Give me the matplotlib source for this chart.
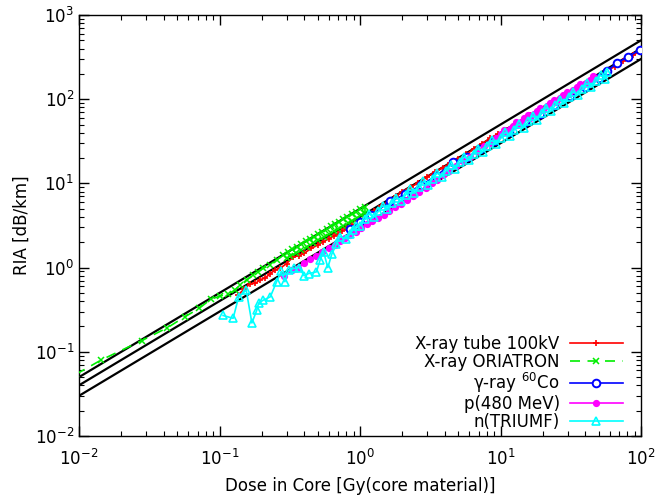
import matplotlib
matplotlib.use("Agg")
import matplotlib.pyplot as plt
import numpy as np

plt.rcParams['font.family'] = ['DejaVu Sans']
plt.rcParams['mathtext.fontset'] = 'dejavusans'

# Reference proportionality lines RIA = k * dose
ref_coeffs = [5.0, 4.0, 3.0]
ref_dose = [1e-2, 1e2]

# X-ray tube 100kV
red_dose = [0.136, 0.15, 0.165, 0.18, 0.195, 0.211, 0.23, 0.25, 0.27, 0.30,
            0.334, 0.37, 0.40, 0.45, 0.50, 0.548, 0.60, 0.65, 0.70, 0.75,
            0.80, 0.88, 0.97, 1.1, 1.25, 1.4, 1.6, 1.8, 2.0, 2.3,
            2.6, 3.0, 3.4, 3.9, 4.4, 5.0, 5.7, 6.5, 7.4, 8.4,
            9.6, 11, 12.5, 14.3, 16.3, 18.6, 21, 25, 30, 37,
            46, 57, 65, 75, 88, 100]
red_ria = [0.476, 0.555, 0.644, 0.648, 0.72, 0.75, 0.85, 0.94, 0.985, 1.11,
           1.34, 1.39, 1.48, 1.69, 1.85, 2.03, 2.19, 2.37, 2.52, 2.74,
           2.92, 3.17, 3.49, 4.07, 4.69, 5.32, 6.16, 7.02, 8.0, 9.09,
           10.1, 11.9, 13.6, 15.4, 17.4, 19.5, 22.2, 25.7, 29.6, 34.4,
           38.4, 43.5, 48.8, 55.8, 64.4, 72.5, 81.9, 96.3, 115.5, 142.5,
           174.8, 216.6, 243.8, 285, 334, 380]

# X-ray ORIATRON
green_dose = [0.0095, 0.0144, 0.0279, 0.0425, 0.0568, 0.0718, 0.0865, 0.101, 0.1156, 0.129,
              0.140, 0.156, 0.174, 0.188, 0.204, 0.229, 0.255, 0.284, 0.309, 0.33,
              0.355, 0.38, 0.41, 0.44, 0.47, 0.50, 0.54, 0.58, 0.62, 0.66,
              0.71, 0.76, 0.81, 0.87, 0.93, 1.0, 1.085, 1.085, 1.02, 0.95,
              0.88, 0.82, 0.76, 0.70, 0.65, 0.60, 0.55, 0.50, 0.46, 0.42,
              0.38, 0.35, 0.32, 0.30]
green_ria = [0.054, 0.080, 0.1355, 0.193, 0.261, 0.329, 0.42, 0.46, 0.486, 0.542,
             0.621, 0.713, 0.817, 0.89, 0.98, 1.07, 1.23, 1.41, 1.55, 1.66,
             1.78, 1.90, 2.05, 2.19, 2.34, 2.49, 2.68, 2.88, 3.08, 3.27,
             3.52, 3.76, 4.01, 4.30, 4.59, 4.93, 5.29, 4.42, 4.18, 3.90,
             3.62, 3.38, 3.14, 2.90, 2.70, 2.50, 2.30, 2.10, 1.94, 1.78,
             1.62, 1.50, 1.38, 1.30]

# gamma-ray 60Co
blue_dose = [0.85, 1.0, 1.2, 1.635, 2.1, 2.7, 3.5, 4.62, 5.8, 7.2,
             9.0, 11.5, 15, 19, 24, 31, 40, 50, 57, 67,
             81, 98]
blue_ria = [2.9, 3.5, 4.2, 6.1, 7.4, 9.5, 12.3, 18.0, 20.5, 25.5,
            31.5, 40.5, 53, 67, 85, 110, 141, 178, 215, 267,
            320, 385]

# p (480 MeV)
mag_dose = [0.29, 0.33, 0.364, 0.40, 0.44, 0.49, 0.54, 0.60, 0.66, 0.72,
            0.78, 0.85, 0.93, 1.02, 1.12, 1.22, 1.34, 1.47, 1.62, 1.78,
            1.95, 2.15, 2.39, 2.65, 2.95, 3.25, 3.52, 3.9, 4.3, 4.8,
            5.4, 6.07, 6.8, 7.6, 8.4, 9.3, 10.0, 10.6, 11.0, 11.6,
            12.2, 12.8, 13.2, 14.0, 14.8, 15.6, 16.2, 17.2, 18.2, 19.2,
            20.0, 21.3, 22.6, 24.0, 24.8, 26.4, 28.0, 29.8, 30.8, 32.8,
            34.8, 37.0, 38.2, 40.6, 43.0, 45.5, 47.0]
mag_ria = [0.80, 0.93, 1.0, 1.12, 1.25, 1.38, 1.52, 1.70, 1.88, 2.06,
           2.25, 2.45, 2.68, 2.96, 3.28, 3.55, 3.90, 4.20, 4.70, 5.20,
           5.75, 6.30, 7.0, 7.9, 8.9, 10.0, 11.0, 12.5, 14.0, 16.0,
           18.3, 20.5, 24.0, 28.0, 30.5, 34.5, 39.0, 43.0, 40.5, 44.5,
           48.5, 53.0, 49.0, 54.0, 59.0, 64.5, 60.5, 66.5, 72.5, 79.0,
           75.0, 82.0, 90.0, 99, 93.0, 102, 111, 122, 115, 127,
           139, 152, 143, 157, 171, 187, 177]

# n (TRIUMF)
cyan_dose = [0.106, 0.125, 0.137, 0.155, 0.170, 0.184, 0.190, 0.205, 0.230, 0.255,
             0.275, 0.292, 0.31, 0.34, 0.37, 0.40, 0.43, 0.49, 0.52, 0.55,
             0.59, 0.63, 0.68, 0.72, 0.80, 0.85, 0.89, 0.94,
             1.0, 1.08, 1.16, 1.25, 1.35, 1.45, 1.56, 1.68, 1.81,
             1.95, 2.11, 2.26, 2.44, 2.64, 2.83, 3.05, 3.29, 3.54,
             3.81, 4.11, 4.42, 4.77, 5.15, 5.53, 5.96, 6.44, 6.91,
             7.45, 8.05, 8.64, 9.31, 10.1, 10.8, 11.6, 12.5, 13.5,
             14.6, 15.8, 16.9, 18.2, 19.7, 21.1, 22.7, 24.5, 26.3,
             28.4, 30.7, 32.9, 35.5, 38.3, 41.2, 44.4, 48.0, 51.5,
             55.5, 57.0]
cyan_ria = [0.27, 0.25, 0.45, 0.54, 0.22, 0.31, 0.38, 0.41, 0.45, 0.68,
            0.90, 0.68, 0.93, 0.98, 1.0, 0.80, 0.85, 0.89, 1.23, 1.55,
            1.0, 1.45, 1.9, 2.34, 2.2, 2.5, 2.8, 3.1,
            3.15, 3.73, 4.35, 3.94, 4.66, 5.44, 4.91, 5.81, 6.79,
            6.14, 7.27, 8.48, 7.69, 9.09, 10.6, 9.61, 11.4, 13.3,
            12.0, 14.2, 16.6, 15.0, 17.8, 20.8, 18.8, 22.2, 25.9,
            23.5, 27.8, 32.4, 29.3, 34.7, 40.5, 36.5, 43.2, 50.5,
            46.0, 54.4, 63.5, 57.3, 67.8, 79.2, 71.5, 84.6, 98.7,
            89.5, 106, 123, 112, 132, 154, 140, 165, 193,
            175, 212]

series_labels = ['X-ray tube 100kV', 'X-ray ORIATRON', r'γ-ray $^{60}$Co',
                 'p(480 MeV)', 'n(TRIUMF)']

fig = plt.figure(figsize=(6.56, 5.0), dpi=100)
ax = fig.add_axes([79 / 656, 64 / 500, 562 / 656, 421 / 500])
ax.set_xscale('log')
ax.set_yscale('log')
ax.set_xlim(1e-2, 1e2)
ax.set_ylim(1e-2, 1e3)

rd = np.array(ref_dose)
for k in ref_coeffs:
    ax.plot(rd, k * rd, color='black', lw=1.6, zorder=1)

ax.plot(red_dose, red_ria, color='#ff0000', lw=1.2, marker='+', ms=4.5, mew=1.2,
        label=series_labels[0], zorder=2)
ax.plot(green_dose, green_ria, color='#00ee00', lw=1.2, ls=(0, (6, 4.5)), marker='x',
        ms=3.8, mew=1.1, label=series_labels[1], zorder=3)
ax.plot(blue_dose, blue_ria, color='#0000ff', lw=1.2, marker='o', ms=5.5, mew=1.4,
        mfc='white', label=series_labels[2], zorder=4)
ax.plot(mag_dose, mag_ria, color='#ff00ff', lw=1.2, marker='o', ms=4.2,
        label=series_labels[3], zorder=5)
ax.plot(cyan_dose, cyan_ria, color='#00ffff', lw=1.2, marker='^', ms=5.5, mew=1.2,
        mfc='none', label=series_labels[4], zorder=6)

ax.tick_params(which='both', direction='in', top=True, right=True, labelsize=12)
ax.tick_params(which='major', length=7, width=1)
ax.tick_params(which='minor', length=3.5, width=0.8)
ax.tick_params(axis='x', which='major', pad=9)
for sp in ax.spines.values():
    sp.set_linewidth(1.0)

ax.set_xlabel('Dose in Core [Gy(core material)]', fontsize=12, labelpad=6)
ax.set_ylabel('RIA [dB/km]', fontsize=12, labelpad=3)

ax.legend(loc='lower right', bbox_to_anchor=(0.968, 0.012), markerfirst=False,
          frameon=False, numpoints=1, fontsize=12, handlelength=3.2,
          handletextpad=0.6, labelspacing=0.0, borderaxespad=0, borderpad=0)

fig.savefig('out.png', dpi=100)
